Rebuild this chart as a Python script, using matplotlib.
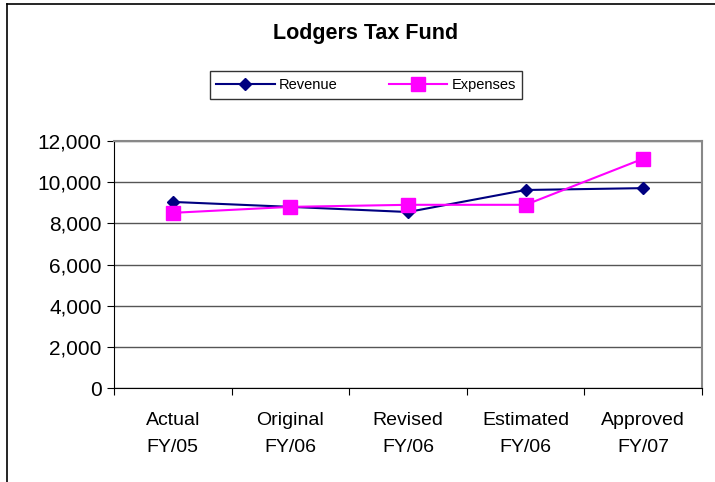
import matplotlib
matplotlib.use("Agg")
import matplotlib.pyplot as plt
from matplotlib.lines import Line2D
from matplotlib.ticker import FuncFormatter, FixedLocator

plt.rcParams['font.family'] = ['Liberation Sans', 'DejaVu Sans']

categories = ["Actual\nFY/05", "Original\nFY/06", "Revised\nFY/06", "Estimated\nFY/06", "Approved\nFY/07"]
revenue = [9040, 8800, 8550, 9620, 9710]
expenses = [8510, 8800, 8900, 8900, 11140]
yticks = [0, 2000, 4000, 6000, 8000, 10000, 12000]

W, H = 715, 482
fig = plt.figure(figsize=(W / 100, H / 100), dpi=100)
ax = fig.add_axes([114 / W, 1 - 388 / H, (702 - 114) / W, (388 - 141) / H])

x = list(range(len(categories)))
ax.plot(x, revenue, color='#000080', marker='D', markersize=6.5, linewidth=1.5, label='Revenue', zorder=3)
ax.plot(x, expenses, color='#FF00FF', marker='s', markersize=9.5, linewidth=1.5, label='Expenses', zorder=3)

ax.set_xlim(-0.5, len(categories) - 0.5)
ax.set_ylim(0, 12000)
ax.set_yticks(yticks)
ax.yaxis.set_major_formatter(FuncFormatter(lambda v, p: f"{int(v):,}"))
ax.tick_params(axis='y', labelsize=15, length=5, direction='out', pad=4)
ax.yaxis.grid(True, color='#555555', linewidth=1)
ax.set_axisbelow(True)

ax.xaxis.set_major_locator(FixedLocator([i - 0.5 for i in range(len(categories) + 1)]))
ax.xaxis.set_major_formatter(FuncFormatter(lambda v, p: ""))
ax.xaxis.set_minor_locator(FixedLocator(x))
ax.set_xticklabels(categories, minor=True)
ax.tick_params(axis='x', which='major', length=5, direction='out')
ax.tick_params(axis='x', which='minor', length=0, labelsize=14, pad=17)
for lbl in ax.get_xticklabels(minor=True):
    lbl.set_linespacing(1.8)

ax.spines['left'].set_color('black')
ax.spines['bottom'].set_color('black')
ax.spines['top'].set_color('#888888')
ax.spines['right'].set_color('#888888')
ax.spines['top'].set_linewidth(1.5)
ax.spines['right'].set_linewidth(1.5)

fig.text(366 / W, 1 - 33 / H, "Lodgers Tax Fund", ha='center', va='center', fontsize=15.5, fontweight='bold')

leg = fig.legend(handles=ax.get_lines(), loc='center', bbox_to_anchor=(366 / W, 1 - 85 / H),
                 ncol=2, fontsize=10.5, frameon=True, fancybox=False, edgecolor='black',
                 handlelength=4, columnspacing=3.5, borderpad=0.45, handletextpad=0.3)
leg.get_frame().set_linewidth(1)

# figure border (left and top)
fig.add_artist(Line2D([7 / W, 7 / W], [0, 1 - 4 / H], color='black', linewidth=1.2))
fig.add_artist(Line2D([7 / W, 1], [1 - 4 / H, 1 - 4 / H], color='black', linewidth=1.2))

fig.savefig("out.png", dpi=100)
